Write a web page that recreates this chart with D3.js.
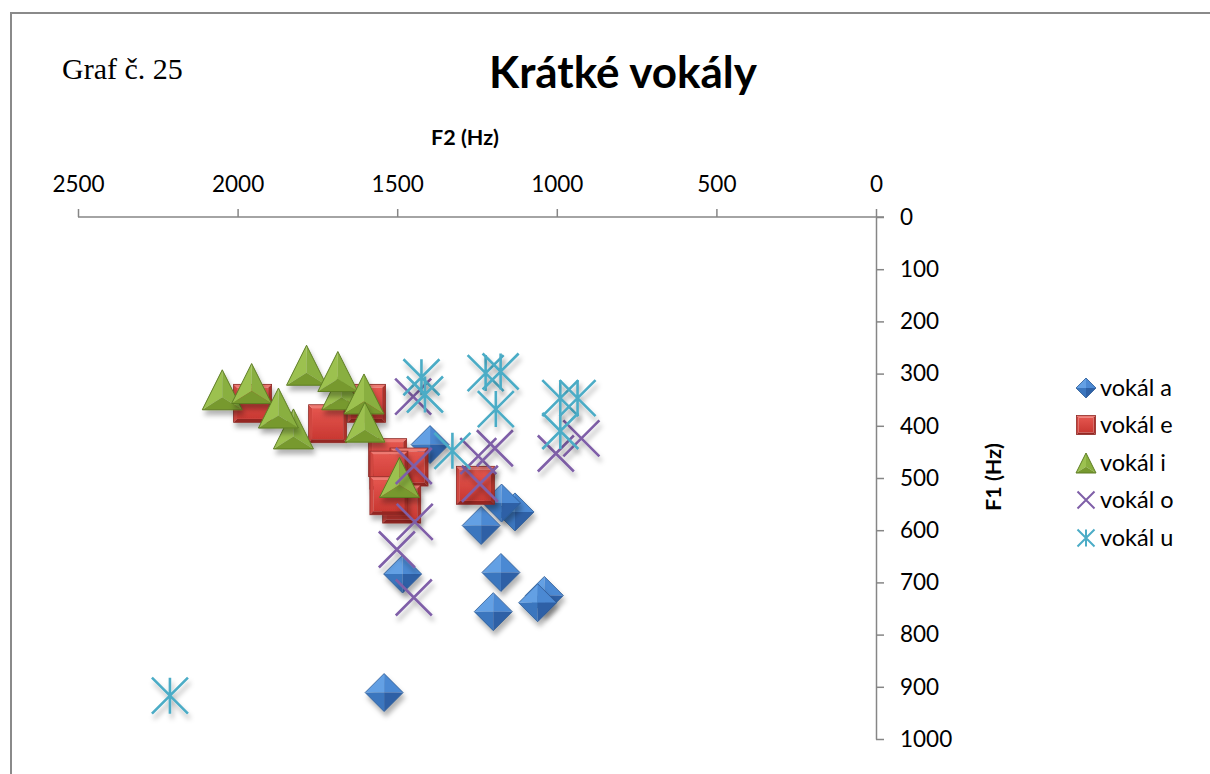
<!DOCTYPE html>
<html><head><meta charset="utf-8">
<script src="https://cdn.jsdelivr.net/npm/d3@7"></script>
<style>
html,body{margin:0;padding:0;background:#fff;}
svg{display:block;}
</style></head>
<body>
<script>
// ---- data ----
const seriesNames = ["vokál a","vokál e","vokál i","vokál o","vokál u"];
const xTicks = [2500,2000,1500,1000,500,0];
const yTicks = [0,100,200,300,400,500,600,700,800,900,1000];

const aF2 = [1397,1131,1173,1237,1483,1175,1199,1039,1060,1541];
const aF1 = [436,565,548,591,684,681,756,725,739,911];
const eF2 = [1953,1718,1596,1530,1463,1526,1486,1526,1255];
const eF1 = [357,396,357,461,479,485,550,534,514];
const iF2 = [2048,1956,1784,1674,1686,1604,1825,1872,1601,1493];
const iF1 = [331,319,284,331,296,339,406,366,393,499];
const oF2 = [1450,1448,1445,1501,1448,1246,1194,1241,1003,923];
const oF1 = [344,477,584,637,729,458,443,511,453,424];
const uF2 = [1424,1413,1223,1176,1191,1327,989,935,989,2212];
const uF1 = [307,340,299,296,368,448,347,347,410,917];

const W = 1210, H = 774;
const svg = d3.select("body").append("svg").attr("width", W).attr("height", H);
const defs = svg.append("defs");
const f = defs.append("filter").attr("id","sh").attr("x","-50%").attr("y","-50%").attr("width","200%").attr("height","200%");
f.append("feDropShadow").attr("dx",2).attr("dy",5).attr("stdDeviation",2.5).attr("flood-color","#000").attr("flood-opacity",0.3);

const gr = defs.append("linearGradient").attr("id","redIn").attr("x1",0).attr("y1",0).attr("x2",0).attr("y2",1);
gr.append("stop").attr("offset","0%").attr("stop-color","#E4554E");
gr.append("stop").attr("offset","100%").attr("stop-color","#C93832");

// chart frame
svg.append("rect").attr("x",11).attr("y",13).attr("width",1300).attr("height",900)
  .attr("fill","none").attr("stroke","#8a8a8a").attr("stroke-width",2);

// texts
svg.append("text").attr("x",62).attr("y",79).attr("font-family","Liberation Serif").attr("font-size",30)
  .attr("fill","#000").text("Graf č. 25");
svg.append("text").attr("x",623).attr("y",88).attr("text-anchor","middle").attr("font-family","Lato")
  .attr("font-weight","bold").attr("font-size",44).attr("fill","#000").text("Krátké vokály");
svg.append("text").attr("x",465).attr("y",145).attr("text-anchor","middle").attr("font-family","Lato")
  .attr("font-weight","bold").attr("font-size",21.5).attr("fill","#000").text("F2 (Hz)");
svg.append("text").attr("transform","translate(1001,477) rotate(-90)").attr("text-anchor","middle").attr("font-family","Lato")
  .attr("font-weight","bold").attr("font-size",21.5).attr("fill","#000").text("F1 (Hz)");

// scales
const x = d3.scaleLinear().domain([2500,0]).range([78,876]);
const y = d3.scaleLinear().domain([0,1000]).range([217,739]);

const gx = svg.append("g").attr("transform","translate(0,217)")
  .call(d3.axisTop(x).tickValues(xTicks).tickSize(8).tickSizeOuter(0).tickPadding(17).tickFormat(d3.format("d")));
const gy = svg.append("g").attr("transform","translate(876,0)")
  .call(d3.axisRight(y).tickValues(yTicks).tickSize(8).tickSizeOuter(0).tickPadding(16).tickFormat(d3.format("d")));
[gx,gy].forEach(g=>{
  g.selectAll("path.domain").attr("stroke","#868686").attr("stroke-width",1.5);
  g.selectAll(".tick line").attr("stroke","#868686").attr("stroke-width",1.5);
  g.selectAll(".tick text").attr("font-family","Lato").attr("font-size",22.5).attr("fill","#000");
});
gx.select("path.domain").attr("d","M78,0H884");

// marker drawers
function diamond(g, r){
  g.append("path").attr("d",`M0,0L${-r},0L0,${-r}Z`).attr("fill","#64A0E4");
  g.append("path").attr("d",`M0,0L0,${-r}L${r},0Z`).attr("fill","#4C89D3");
  g.append("path").attr("d",`M0,0L${-r},0L0,${r}Z`).attr("fill","#3B76BE");
  g.append("path").attr("d",`M0,0L${r},0L0,${r}Z`).attr("fill","#2E61A6");
  g.append("path").attr("d",`M0,${-r}L${r},0L0,${r}L${-r},0Z`).attr("fill","none").attr("stroke","#2A5892").attr("stroke-width",0.8);
}
function square(g, s){
  const b = Math.max(2, s*0.18);
  g.append("path").attr("d",`M${-s},${-s}H${s}L${s-b},${-s+b}H${-s+b}Z`).attr("fill","#EE7A72");
  g.append("path").attr("d",`M${-s},${-s}L${-s+b},${-s+b}V${s-b}L${-s},${s}Z`).attr("fill","#D04740");
  g.append("path").attr("d",`M${s},${-s}V${s}L${s-b},${s-b}V${-s+b}Z`).attr("fill","#AC302B");
  g.append("path").attr("d",`M${-s},${s}H${s}L${s-b},${s-b}H${-s+b}Z`).attr("fill","#952722");
  g.append("rect").attr("x",-s+b).attr("y",-s+b).attr("width",2*(s-b)).attr("height",2*(s-b)).attr("fill","url(#redIn)");
  g.append("rect").attr("x",-s).attr("y",-s).attr("width",2*s).attr("height",2*s).attr("fill","none").attr("stroke","#8E2A26").attr("stroke-width",0.8);
}
function triangle(g, h){
  const a = [0,-h/2], l=[-h/2,h/2], r=[h/2,h/2], c=[0,h/2-h/3.2];
  const p = pts=>"M"+pts.map(q=>q.join(",")).join("L")+"Z";
  g.append("path").attr("d",p([a,l,c])).attr("fill","#9CC150");
  g.append("path").attr("d",p([a,r,c])).attr("fill","#89AF3F");
  g.append("path").attr("d",p([l,r,c])).attr("fill","#77992F");
  g.append("path").attr("d",p([a,l,r])).attr("fill","none").attr("stroke","#5E7D24").attr("stroke-width",1);
}
function cross(g, s, col, sw){
  g.append("path").attr("d",`M${-s},${-s}L${s},${s}M${-s},${s}L${s},${-s}`).attr("stroke",col).attr("stroke-width",sw).attr("fill","none");
}
function star(g, s, col, sw){
  g.append("path").attr("d",`M${-s},${-s}L${s},${s}M${-s},${s}L${s},${-s}M0,${-s}V${s}`).attr("stroke",col).attr("stroke-width",sw).attr("fill","none");
}
const drawers = [
  (g,L)=>diamond(g, L?10:19),
  (g,L)=>square(g, L?9.5:19),
  (g,L)=>triangle(g, L?20:40),
  (g,L)=>cross(g, L?8.5:18, "#7F5FA8", L?2:2.6),
  (g,L)=>star(g, L?8.5:18, "#4BACC6", L?2:2.6)
];
const series = [[aF2,aF1],[eF2,eF1],[iF2,iF1],[oF2,oF1],[uF2,uF1]];

const plot = svg.append("g");
series.forEach(([xs,ys],si)=>{
  const pts = xs.map((v,i)=>({f2:v,f1:ys[i]}));
  plot.append("g").attr("class","s"+si).selectAll("g").data(pts).join("g")
    .attr("transform",d=>`translate(${x(d.f2)},${y(d.f1)})`)
    .attr("filter","url(#sh)")
    .each(function(){ drawers[si](d3.select(this), false); });
});

// legend
const legY = [388,425,463,500,538];
const leg = svg.append("g");
seriesNames.forEach((n,i)=>{
  const g = leg.append("g").attr("transform",`translate(1086,${legY[i]})`);
  drawers[i](g.append("g"), true);
  g.append("text").attr("x",14).attr("y",0).attr("dy","0.35em").attr("font-family","Lato").attr("font-size",23.5)
    .attr("fill","#000").text(n);
});
</script>
</body></html>
